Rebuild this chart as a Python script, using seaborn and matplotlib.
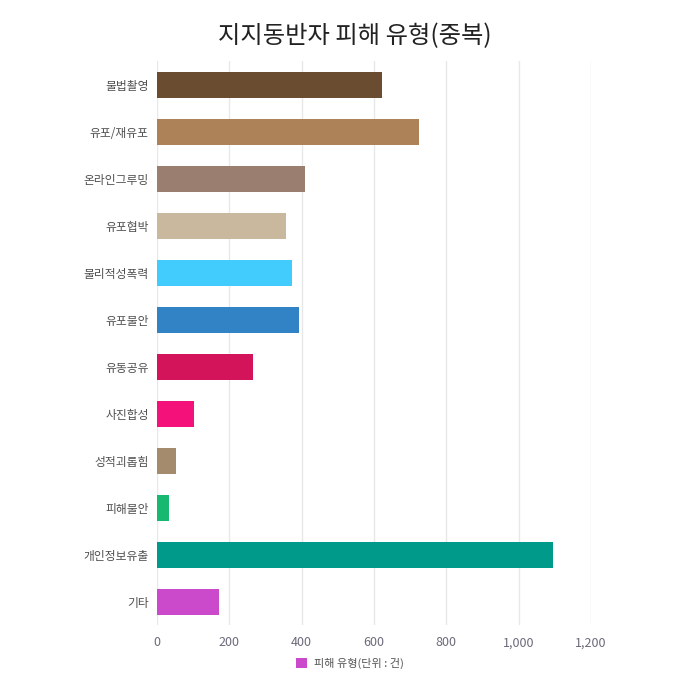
import matplotlib
matplotlib.use('Agg')
import matplotlib.pyplot as plt
import matplotlib.ticker as mticker
from matplotlib.patches import Patch
import seaborn as sns
import pandas as pd

# Data
categories = ['불법촬영', '유포/재유포', '온라인그루밍', '유포협박', '물리적성폭력', '유포불안',
              '유동공유', '사진합성', '성적괴롭힘', '피해불안', '개인정보유출', '기타']
counts = [622, 724, 409, 356, 373, 392, 265, 102, 52, 32, 1095, 171]
bar_colors = ['#6A4C30', '#AD8259', '#9A7F70', '#C9B89D', '#42CBFD', '#3283C5',
              '#D4145A', '#F4117A', '#A48B6E', '#17B86F', '#009A8B', '#CB4ACC']
legend_label = '피해 유형(단위 : 건)'
title = '지지동반자 피해 유형(중복)'

df = pd.DataFrame({'category': categories, 'count': counts})

sns.set_style('white')
plt.rcParams['font.family'] = ['Noto Sans CJK KR', 'DejaVu Sans']

fig = plt.figure(figsize=(7, 7), dpi=100)
ax = fig.add_axes([0.2243, 0.1067, 0.62, 0.8057])

sns.barplot(data=df, y='category', x='count', hue='category', palette=bar_colors,
            order=categories, hue_order=categories, width=0.55, saturation=1,
            linewidth=0, legend=False, ax=ax, zorder=3)

ax.set_xlim(0, 1200)
ax.xaxis.set_major_locator(mticker.MultipleLocator(200))
ax.xaxis.set_major_formatter(mticker.FuncFormatter(lambda v, p: f'{int(v):,}'))
ax.grid(axis='x', color='#E8E8E8', linewidth=1, zorder=0)
ax.grid(axis='y', visible=False)
for s in ax.spines.values():
    s.set_visible(False)

ax.set_xlabel('')
ax.set_ylabel('')
ax.tick_params(axis='x', length=0, pad=8, labelsize=9, labelcolor='#6A6A7A')
ax.tick_params(axis='y', length=0, pad=6, labelsize=8.5, labelcolor='#505050')
for lab in ax.get_yticklabels():
    lab.set_fontweight('medium')

fig.suptitle(title, x=0.507, y=0.967, fontsize=17.5, color='#222222')

handles = [Patch(facecolor='#CB4ACC', edgecolor='none')]
fig.legend(handles, [legend_label], loc='center', bbox_to_anchor=(0.5, 0.052),
           frameon=False, handlelength=1.0, handleheight=1.0,
           handletextpad=0.6, labelcolor='#555555',
           prop={'weight': 'medium', 'size': 8})

fig.savefig('out.png', dpi=100)
